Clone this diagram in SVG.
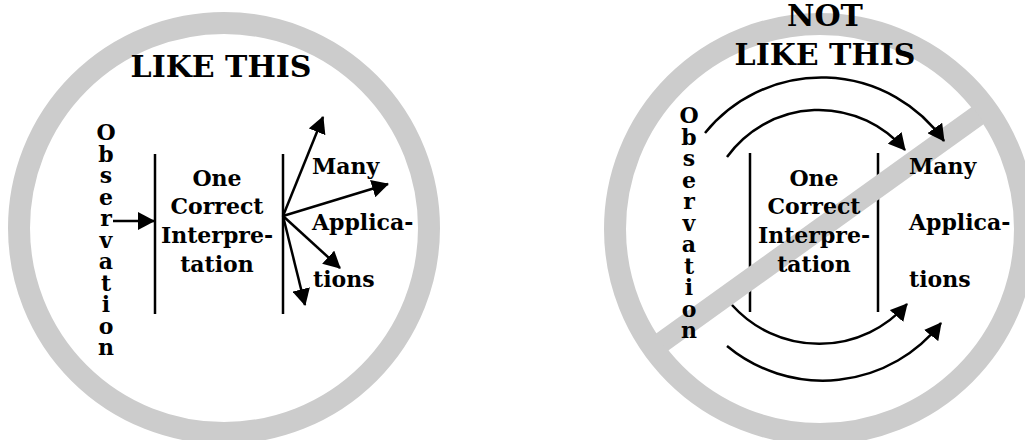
<svg xmlns="http://www.w3.org/2000/svg" width="1025" height="440" viewBox="0 0 1025 440">
<defs>
<marker id="ah" markerUnits="userSpaceOnUse" viewBox="0 0 18 18" markerWidth="18" markerHeight="18" refX="16" refY="9" orient="auto">
<path d="M0,0 L17,9 L0,18 Z" fill="#000"/>
</marker>
</defs>
<style>
.ring{fill:none;stroke:#cccccc;stroke-width:22}
.bar{stroke:#cccccc;stroke-width:21;stroke-linecap:butt}
.vl{stroke:#000;stroke-width:2.5}
.ar{fill:none;stroke:#000;stroke-width:2.5;marker-end:url(#ah)}
text{font-family:"DejaVu Serif","Liberation Serif",serif;font-weight:bold;fill:#000}
.t{font-size:30px;text-anchor:middle}
.b{font-size:22px}
.c{text-anchor:middle}
</style>
<g id="left-panel">
<circle class="ring" cx="224" cy="228" r="205"/>
<g id="left-lines">
<line class="vl" x1="155" y1="154" x2="155" y2="314"/>
<line class="vl" x1="283" y1="154" x2="283" y2="314"/>
</g>
<g id="left-connectors">
<line class="ar" x1="113" y1="221" x2="154" y2="221"/>
<line class="ar" x1="283" y1="216" x2="323" y2="117"/>
<line class="ar" x1="283" y1="216" x2="388" y2="184"/>
<line class="ar" x1="283" y1="216" x2="340" y2="268"/>
<line class="ar" x1="283" y1="216" x2="305" y2="305"/>
</g>
<g id="left-title"><text class="t" x="221" y="77">LIKE THIS</text></g>
<g id="left-observation">
<text class="b c" x="106" y="140">O</text>
<text class="b c" x="106" y="161.5">b</text>
<text class="b c" x="106" y="183">s</text>
<text class="b c" x="106" y="204.5">e</text>
<text class="b c" x="106" y="226">r</text>
<text class="b c" x="106" y="247.5">v</text>
<text class="b c" x="106" y="269">a</text>
<text class="b c" x="106" y="290.5">t</text>
<text class="b c" x="106" y="312">i</text>
<text class="b c" x="106" y="333.5">o</text>
<text class="b c" x="106" y="355">n</text>
</g>
<g id="left-interpretation">
<text class="b c" x="217" y="186">One</text>
<text class="b c" x="217" y="214">Correct</text>
<text class="b c" x="217" y="243">Interpre-</text>
<text class="b c" x="217" y="272">tation</text>
</g>
<g id="left-applications">
<text class="b" x="312" y="174">Many</text>
<text class="b" x="312" y="230">Applica-</text>
<text class="b" x="313" y="287">tions</text>
</g>
</g>
<g id="right-panel">
<circle class="ring" cx="820" cy="229" r="205"/>
<g id="right-lines">
<line class="vl" x1="750" y1="153" x2="750" y2="312"/>
<line class="vl" x1="878" y1="153" x2="878" y2="312"/>
</g>
<line id="slash" class="bar" x1="661.5" y1="342.5" x2="978.5" y2="115"/>
<g id="right-connectors">
<path class="ar" d="M705,133 A150,150 0 0 1 944,141"/>
<path class="ar" d="M727,157 A113,113 0 0 1 905,150"/>
<path class="ar" d="M732,305 A117,117 0 0 0 907,304"/>
<path class="ar" d="M727,346 A150,150 0 0 0 941,323"/>
</g>
<g id="right-title">
<text class="t" x="825" y="26">NOT</text>
<text class="t" x="825" y="65">LIKE THIS</text>
</g>
<g id="right-observation">
<text class="b c" x="689" y="123">O</text>
<text class="b c" x="689" y="144.5">b</text>
<text class="b c" x="689" y="166">s</text>
<text class="b c" x="689" y="187.5">e</text>
<text class="b c" x="689" y="209">r</text>
<text class="b c" x="689" y="230.5">v</text>
<text class="b c" x="689" y="252">a</text>
<text class="b c" x="689" y="273.5">t</text>
<text class="b c" x="689" y="295">i</text>
<text class="b c" x="689" y="316.5">o</text>
<text class="b c" x="689" y="338">n</text>
</g>
<g id="right-interpretation">
<text class="b c" x="814" y="186">One</text>
<text class="b c" x="814" y="214">Correct</text>
<text class="b c" x="814" y="243">Interpre-</text>
<text class="b c" x="814" y="272">tation</text>
</g>
<g id="right-applications">
<text class="b" x="909" y="174">Many</text>
<text class="b" x="909" y="230">Applica-</text>
<text class="b" x="909" y="287">tions</text>
</g>
</g>
</svg>
